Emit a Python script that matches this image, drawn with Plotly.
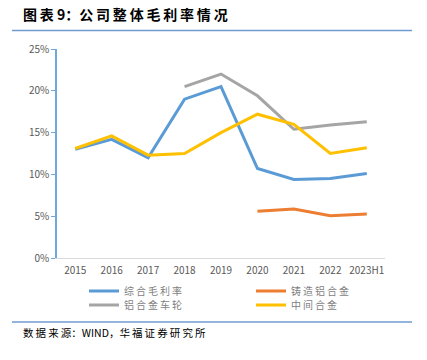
import plotly.graph_objects as go

categories = ["2015", "2016", "2017", "2018", "2019", "2020", "2021", "2022", "2023H1"]
overall = [13.0, 14.2, 12.0, 19.0, 20.5, 10.7, 9.4, 9.5, 10.1]
cast_alloy = [None, None, None, None, None, 5.6, 5.85, 5.05, 5.25]
wheels = [None, None, None, 20.5, 22.0, 19.4, 15.4, 15.9, 16.3]
master_alloy = [13.1, 14.6, 12.3, 12.5, 15.0, 17.2, 16.0, 12.5, 13.2]
y_ticks = [0, 5, 10, 15, 20, 25]
y_labels = ["0%", "5%", "10%", "15%", "20%", "25%"]

W, H = 427, 360
L, R, T, B = 57, 385, 49, 258

def px(x):
    return x / W

def py(y):
    return 1 - y / H

FONT = "Noto Sans CJK SC, Liberation Sans, sans-serif"
TS = "\u2009"

def spaced(s):
    return TS.join(list(s))

fig = go.Figure()
series = [
    ("综合毛利率", overall, "#5b9bd5", "legend", 1),
    ("铝合金车轮", wheels, "#a5a5a5", "legend2", 1),
    ("铸造铝合金", cast_alloy, "#ed7d31", "legend", 2),
    ("中间合金", master_alloy, "#ffc000", "legend2", 2),
]
for name, vals, color, leg, rank in series:
    fig.add_trace(go.Scatter(
        x=categories, y=vals, name=spaced(name), mode="lines",
        line=dict(color=color, width=3), legend=leg, legendrank=rank,
        connectgaps=False, hoverinfo="skip",
    ))

legend_common = dict(
    orientation="h", xanchor="left", yanchor="middle",
    entrywidth=122, entrywidthmode="pixels",
    font=dict(size=10, color="#7f7f7f", family=FONT),
    itemwidth=30, traceorder="normal", bgcolor="rgba(0,0,0,0)",
)

fig.update_layout(
    width=W, height=H,
    margin=dict(l=0, r=0, t=0, b=0, autoexpand=False),
    paper_bgcolor="white", plot_bgcolor="white",
    font=dict(family=FONT, size=10, color="#595959"),
    showlegend=True,
    legend=dict(x=px(84), y=py(291), **legend_common),
    legend2=dict(x=px(84), y=py(305), **legend_common),
    xaxis=dict(
        domain=[px(L), px(R)],
        type="category", showgrid=False, showline=True, linecolor="#d9d9d9",
        linewidth=1, ticks="", tickfont=dict(size=10, color="#595959"),
        range=[-0.5, 8.5], fixedrange=True, ticklabelstandoff=3,
    ),
    yaxis=dict(
        domain=[py(B), py(T)],
        range=[0, 25], tickmode="array", tickvals=y_ticks, ticktext=y_labels,
        showgrid=False, showline=True, linecolor="#6fa8dc", linewidth=1.5,
        ticks="outside", ticklen=4, tickcolor="#6fa8dc",
        tickfont=dict(size=10, color="#595959"), zeroline=False,
    ),
)

# header / footer rules
fig.add_shape(type="line", xref="paper", yref="paper",
              x0=px(12), x1=px(412), y0=py(30.5), y1=py(30.5),
              line=dict(color="#6f9bd1", width=1.5))
fig.add_shape(type="line", xref="paper", yref="paper",
              x0=px(12), x1=px(412), y0=py(322), y1=py(322),
              line=dict(color="#6f9bd1", width=1.5))

fig.add_annotation(text="<b>" + spaced("图表") + " 9：" + spaced("公司整体毛利率情况") + "</b>",
                   xref="paper", yref="paper",
                   x=px(21), y=py(14), xanchor="left", yanchor="middle",
                   showarrow=False, font=dict(size=14, color="#000000", family=FONT))
fig.add_annotation(text=spaced("数据来源") + "：WIND，" + spaced("华福证券研究所"),
                   xref="paper", yref="paper",
                   x=px(21), y=py(332), xanchor="left", yanchor="middle",
                   showarrow=False, font=dict(size=10.5, color="#000000", family=FONT))

fig.write_html("out.html", config={"displayModeBar": False},
               post_script="document.body.style.margin='0';")
